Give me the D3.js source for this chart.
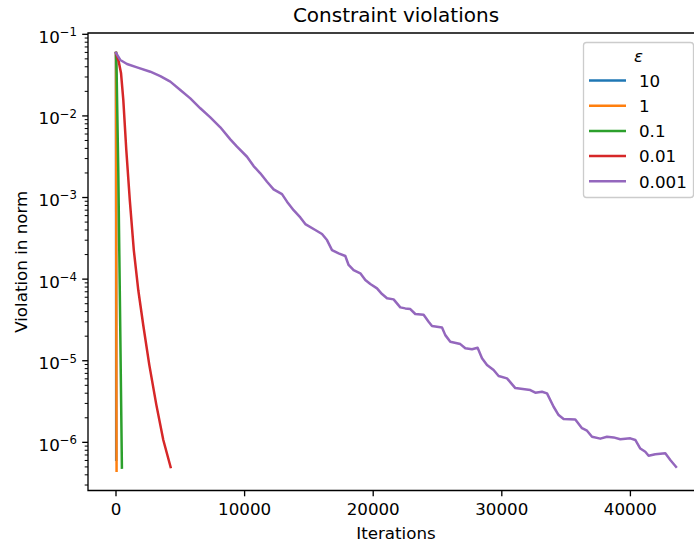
<!DOCTYPE html>
<html>
<head>
<meta charset="utf-8">
<title>Constraint violations</title>
<script src="https://d3js.org/d3.v7.min.js"></script>
<style>
    body {
        margin: 0;
        background: #fff;
    }

    svg {
        display: block;
        font-family: "DejaVu Sans", sans-serif;
    }

    .tick-label {
        font-size: 16.7px;
        fill: #000;
    }

    .series {
        fill: none;
        stroke-width: 2.5;
        stroke-linejoin: round;
        stroke-linecap: square;
    }
</style>
</head>
<body>
<div id="chart"></div>
<script>
    // data (iterations vs violation)
    const legendLabels = ["10", "1", "0.1", "0.01", "0.001"];
    const colors = ["#1f77b4", "#ff7f0e", "#2ca02c", "#d62728", "#9467bd"];

    const itersEps10 = [0, 5, 10, 15];
    const violEps10 = [0.059, 4e-3, 5e-5, 6.1e-7];

    const itersEps1 = [0, 10, 20, 30, 45];
    const violEps1 = [0.059, 6e-3, 2.5e-4, 1e-5, 4.5e-7];

    const itersEps01 = [0, 50, 180, 310, 460];
    const violEps01 = [0.059, 0.033, 2e-3, 4.6e-5, 4.9e-7];

    const itersEps001 = [0, 218, 389, 568, 801, 1073, 1384, 1734, 2123, 2589, 3134, 3678, 4246];
    const violEps001 = [0.059, 0.0458, 0.0336, 0.0157, 3.82e-3, 9.3e-4, 2.27e-4, 7.3e-5,
        2.7e-5, 8.9e-6, 2.9e-6, 1.07e-6, 4.98e-7];

    const itersEps0001 = [0, 334, 855, 1633, 2667, 3445, 4222, 5000, 5778, 6555, 7333, 8111,
        8888, 9409, 10187, 10700, 11221, 11742, 12255, 12908, 13297, 13810, 14331, 14720,
        15498, 16019, 16407, 16796, 17310, 17830, 18087, 18476, 18997, 19386, 19775, 20296,
        20685, 21073, 21586, 22107, 22496, 22885, 23273, 23919, 24308, 24572, 25350, 25606,
        25995, 26773, 27162, 27683, 28118, 28460, 28849, 29362, 29751, 30404, 31050, 32216,
        32605, 33126, 33515, 34028, 34417, 34805, 35715, 36236, 36625, 37014, 37659, 38180,
        38693, 39214, 39992, 40380, 40769, 41158, 41415, 41935, 42713, 43102, 43545];
    const violEps0001 = [0.059, 0.0484, 0.0433, 0.0394, 0.0348, 0.0308, 0.0263, 0.0208,
        0.0164, 0.0124, 9.6e-3, 7.25e-3, 5.16e-3, 4.2e-3, 3.16e-3, 2.43e-3, 1.98e-3,
        1.56e-3, 1.26e-3, 1.10e-3, 8.9e-4, 7.0e-4, 5.7e-4, 4.73e-4, 4.0e-4, 3.57e-4,
        3.01e-4, 2.27e-4, 2.07e-4, 1.92e-4, 1.49e-4, 1.29e-4, 1.18e-4, 9.75e-5, 8.7e-5,
        7.7e-5, 6.56e-5, 5.82e-5, 5.65e-5, 4.51e-5, 4.38e-5, 4.30e-5, 3.74e-5, 3.66e-5,
        3.01e-5, 2.66e-5, 2.56e-5, 2.06e-5, 1.71e-5, 1.60e-5, 1.42e-5, 1.38e-5, 1.44e-5,
        1.07e-5, 8.85e-6, 7.69e-6, 6.49e-6, 6.08e-6, 4.62e-6, 4.37e-6, 4.06e-6, 4.17e-6,
        3.98e-6, 2.73e-6, 2.16e-6, 1.93e-6, 1.91e-6, 1.49e-6, 1.39e-6, 1.17e-6, 1.11e-6,
        1.17e-6, 1.15e-6, 1.09e-6, 1.12e-6, 1.07e-6, 8.4e-7, 7.67e-7, 6.86e-7, 7.13e-7,
        7.33e-7, 6.07e-7, 5.02e-7];

    const xTicks = [0, 10000, 20000, 30000, 40000];
    const yDecades = [-6, -5, -4, -3, -2, -1];

    const allIters = [itersEps10, itersEps1, itersEps01, itersEps001, itersEps0001];
    const allViols = [violEps10, violEps1, violEps01, violEps001, violEps0001];

    const width = 694, height = 547;
    const margin = { left: 88, right: 704, top: 33, bottom: 490.5 };

    const svg = d3.select("#chart").append("svg")
        .attr("width", width)
        .attr("height", height);

    svg.append("rect")
        .attr("width", width)
        .attr("height", height)
        .attr("fill", "#fff");

    // x limits padded 5% like matplotlib
    const xMax = d3.max(itersEps0001);
    const x = d3.scaleLinear()
        .domain([-0.05 * xMax, 1.05 * xMax])
        .range([margin.left, margin.right]);

    const y = d3.scaleLog()
        .domain([Math.pow(10, -6.59), Math.pow(10, -0.984)])
        .range([margin.bottom, margin.top]);

    svg.append("clipPath").attr("id", "plot-clip")
        .append("rect")
        .attr("x", margin.left)
        .attr("y", margin.top)
        .attr("width", margin.right - margin.left)
        .attr("height", margin.bottom - margin.top);

    const line = d3.line()
        .x(d => x(d[0]))
        .y(d => y(d[1]));

    const plot = svg.append("g").attr("clip-path", "url(#plot-clip)");

    allIters.forEach((its, i) => {
        const pts = its.map((it, j) => [it, allViols[i][j]]);
        plot.append("path")
            .datum(pts)
            .attr("class", "series")
            .attr("stroke", colors[i])
            .attr("d", line);
    });

    // spines
    const spine = svg.append("g")
        .attr("stroke", "#000")
        .attr("stroke-width", 1.33)
        .attr("fill", "none");
    spine.append("path")
        .attr("d", `M${margin.left},${margin.top}V${margin.bottom}H${margin.right}V${margin.top}Z`);

    // x ticks
    const xAxis = svg.append("g");
    xTicks.forEach(t => {
        xAxis.append("line")
            .attr("x1", x(t)).attr("x2", x(t))
            .attr("y1", margin.bottom).attr("y2", margin.bottom + 5.8)
            .attr("stroke", "#000").attr("stroke-width", 1.33);
        xAxis.append("text")
            .attr("class", "tick-label")
            .attr("x", x(t))
            .attr("y", 515)
            .attr("text-anchor", "middle")
            .text(t);
    });

    // y ticks, major and minor
    const yAxis = svg.append("g");
    const [lo, hi] = y.domain();
    for (let e = -7; e <= 0; e++) {
        for (let m = 1; m <= 9; m++) {
            const v = m * Math.pow(10, e);
            if (v < lo || v > hi) continue;
            const len = m === 1 ? 5.8 : 3.3;
            yAxis.append("line")
                .attr("x1", margin.left - len).attr("x2", margin.left)
                .attr("y1", y(v)).attr("y2", y(v))
                .attr("stroke", "#000")
                .attr("stroke-width", m === 1 ? 1.33 : 1);
        }
    }

    yDecades.forEach(e => {
        const t = yAxis.append("text")
            .attr("class", "tick-label")
            .attr("x", 77)
            .attr("y", y(Math.pow(10, e)) + 8.4)
            .attr("text-anchor", "end");
        t.append("tspan").text("10");
        t.append("tspan")
            .attr("dy", -6.5)
            .attr("font-size", "11.7px")
            .text("\u2212" + Math.abs(e));
    });

    // labels and title
    svg.append("text")
        .attr("x", (margin.left + margin.right) / 2)
        .attr("y", 539)
        .attr("text-anchor", "middle")
        .attr("font-size", "16.7px")
        .text("Iterations");

    svg.append("text")
        .attr("transform", `translate(26.5,${(margin.top + margin.bottom) / 2}) rotate(-90)`)
        .attr("text-anchor", "middle")
        .attr("font-size", "16.7px")
        .text("Violation in norm");

    svg.append("text")
        .attr("x", (margin.left + margin.right) / 2)
        .attr("y", 21.5)
        .attr("text-anchor", "middle")
        .attr("font-size", "20px")
        .text("Constraint violations");

    // legend
    const legend = svg.append("g");
    legend.append("rect")
        .attr("x", 583.5).attr("y", 42.5)
        .attr("width", 110).attr("height", 155)
        .attr("rx", 3)
        .attr("fill", "#fff").attr("fill-opacity", 0.8)
        .attr("stroke", "#cccccc").attr("stroke-width", 1.33);

    legend.append("text")
        .attr("x", 638.5).attr("y", 61.5)
        .attr("text-anchor", "middle")
        .attr("font-size", "16.7px")
        .attr("font-style", "italic")
        .text("\u03b5");

    legendLabels.forEach((lab, i) => {
        const cy = 80.5 + i * 25.2;
        legend.append("line")
            .attr("x1", 589).attr("x2", 626)
            .attr("y1", cy).attr("y2", cy)
            .attr("stroke", colors[i])
            .attr("stroke-width", 2.5);
        legend.append("text")
            .attr("x", 639).attr("y", cy + 6.2)
            .attr("font-size", "16.7px")
            .text(lab);
    });
</script>
</body>
</html>
